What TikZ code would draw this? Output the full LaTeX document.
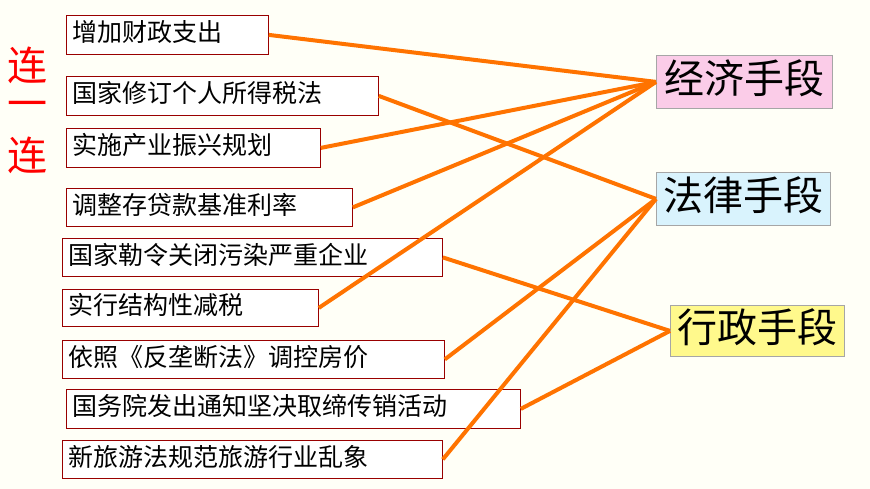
\documentclass[tikz,border=0pt]{standalone}
\usepackage{fontspec}
\setmainfont{Noto Sans CJK SC}
\begin{document}
\begin{tikzpicture}[x=1pt,y=-1pt]
  \tikzstyle{item}=[draw=red!60!black,thick,fill=white,anchor=north west,inner xsep=6pt,inner ysep=0pt,align=left,font=\fontsize{25}{25}\selectfont,text height=19pt,text depth=5pt]
  \tikzstyle{means}=[draw=black!35,thick,anchor=north west,inner sep=0pt,font=\fontsize{40}{40}\selectfont,text height=31pt,text depth=7pt]
  \tikzstyle{link}=[draw=orange!90!red,line width=4pt]
  \fill[yellow!3] (0,0) rectangle (870,489);
  \useasboundingbox (0,0) rectangle (870,489);
  \node[red,font=\fontsize{40}{40}\selectfont] (t1) at (28,65) {连};
  \node[red,font=\fontsize{40}{40}\selectfont] (t2) at (28,110) {一};
  \node[red,font=\fontsize{40}{40}\selectfont] (t3) at (28,155) {连};
  \node[item,text width=190,minimum height=39] (a1) at (66,15) {增加财政支出};
  \node[item,text width=300,minimum height=39] (a2) at (66,76) {国家修订个人所得税法};
  \node[item,text width=242,minimum height=39] (a3) at (66,128) {实施产业振兴规划};
  \node[item,text width=274,minimum height=38] (a4) at (66,188) {调整存贷款基准利率};
  \node[item,text width=368,minimum height=38] (a5) at (62,238) {国家勒令关闭污染严重企业};
  \node[item,text width=244,minimum height=37] (a6) at (62,289) {实行结构性减税};
  \node[item,text width=370,minimum height=38] (a7) at (62,340) {依照《反垄断法》调控房价};
  \node[item,text width=442,minimum height=39] (a8) at (66,389) {国务院发出通知坚决取缔传销活动};
  \node[item,text width=368,minimum height=38] (a9) at (62,440) {新旅游法规范旅游行业乱象};
  \node[means,fill=magenta!20,minimum width=176,minimum height=53] (jj) at (656,55) {经济手段};
  \node[means,fill=cyan!15,minimum width=174,minimum height=53] (fl) at (656,172) {法律手段};
  \node[means,fill=yellow!45,minimum width=174,minimum height=51] (xz) at (670,305) {行政手段};
  \path[link] (a1.east) -- (jj.west);
  \path[link] (a3.east) -- (jj.west);
  \path[link] (a4.east) -- (jj.west);
  \path[link] (a6.east) -- (jj.west);
  \path[link] (a2.east) -- (fl.west);
  \path[link] (a7.east) -- (fl.west);
  \path[link] (a9.east) -- (fl.west);
  \path[link] (a5.east) -- (xz.west);
  \path[link] (a8.east) -- (xz.west);
\end{tikzpicture}
\end{document}
